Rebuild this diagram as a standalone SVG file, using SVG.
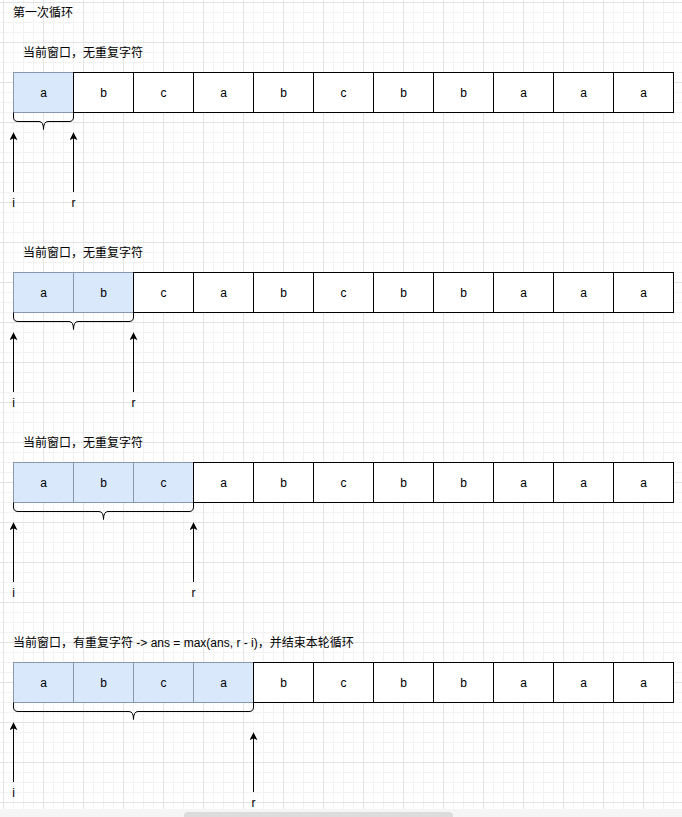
<svg xmlns="http://www.w3.org/2000/svg" width="682" height="817" viewBox="0 0 682 817">
<style>
text{font-family:"Liberation Sans","Noto Sans CJK SC",sans-serif;font-size:12px;fill:#000}
.c{text-anchor:middle;dominant-baseline:central}
.l{dominant-baseline:central}
.cell{fill:#fff;stroke:#000;stroke-width:1}
.hl{fill:#dae8fc;stroke:#8797b0;stroke-width:1}
.br{fill:none;stroke:#000;stroke-width:1}
.ar{stroke:#000;stroke-width:1;fill:none;marker-end:url(#ah)}
</style>
<defs>
<pattern id="minor" patternUnits="userSpaceOnUse" x="3" y="2" width="10" height="10">
<path d="M0.5,0V10M0,0.5H10" stroke="#f2f2f2" stroke-width="1" fill="none"/>
</pattern>
<pattern id="major" patternUnits="userSpaceOnUse" x="3" y="2" width="40" height="40">
<path d="M0.5,0V40M0,0.5H40" stroke="#e3e3e3" stroke-width="1" fill="none"/>
</pattern>
<marker id="ah" viewBox="0 0 10 10" refX="9" refY="5" markerWidth="8" markerHeight="8" markerUnits="userSpaceOnUse" orient="auto">
<path d="M0,0L10,5L0,10L2.5,5Z" fill="#000"/>
</marker>
</defs>
<rect width="682" height="817" fill="#fff"/>
<rect width="682" height="817" fill="url(#minor)"/>
<rect width="682" height="817" fill="url(#major)"/>

<g id="title"><text class="l" x="13" y="13">第一次循环</text></g>

<!-- Row 1 -->
<g id="row1-label"><text class="l" x="23" y="52.5">当前窗口，无重复字符</text></g>
<g id="row1">
<g id="r1c1"><rect class="hl" x="13.5" y="72.5" width="60" height="40"/><text class="c" x="43.5" y="92.5">a</text></g>
<g id="r1c2"><rect class="cell" x="73.5" y="72.5" width="60" height="40"/><text class="c" x="103.5" y="92.5">b</text></g>
<g id="r1c3"><rect class="cell" x="133.5" y="72.5" width="60" height="40"/><text class="c" x="163.5" y="92.5">c</text></g>
<g id="r1c4"><rect class="cell" x="193.5" y="72.5" width="60" height="40"/><text class="c" x="223.5" y="92.5">a</text></g>
<g id="r1c5"><rect class="cell" x="253.5" y="72.5" width="60" height="40"/><text class="c" x="283.5" y="92.5">b</text></g>
<g id="r1c6"><rect class="cell" x="313.5" y="72.5" width="60" height="40"/><text class="c" x="343.5" y="92.5">c</text></g>
<g id="r1c7"><rect class="cell" x="373.5" y="72.5" width="60" height="40"/><text class="c" x="403.5" y="92.5">b</text></g>
<g id="r1c8"><rect class="cell" x="433.5" y="72.5" width="60" height="40"/><text class="c" x="463.5" y="92.5">b</text></g>
<g id="r1c9"><rect class="cell" x="493.5" y="72.5" width="60" height="40"/><text class="c" x="523.5" y="92.5">a</text></g>
<g id="r1c10"><rect class="cell" x="553.5" y="72.5" width="60" height="40"/><text class="c" x="583.5" y="92.5">a</text></g>
<g id="r1c11"><rect class="cell" x="613.5" y="72.5" width="60" height="40"/><text class="c" x="643.5" y="92.5">a</text></g>
</g>
<g id="r1-brace"><path class="br" d="M13.5,112.5V117Q13.5,121.5 18,121.5H39Q43.5,121.5 43.5,129.5Q43.5,121.5 48,121.5H69Q73.5,121.5 73.5,117V112.5"/></g>
<g id="r1-i"><text class="c" x="13.5" y="202.5">i</text></g>
<g id="r1-r"><text class="c" x="73.5" y="202.5">r</text></g>

<!-- Row 2 -->
<g id="row2-label"><text class="l" x="23" y="252.5">当前窗口，无重复字符</text></g>
<g id="row2">
<g id="r2c1"><rect class="hl" x="13.5" y="272.5" width="60" height="40"/><text class="c" x="43.5" y="292.5">a</text></g>
<g id="r2c2"><rect class="hl" x="73.5" y="272.5" width="60" height="40"/><text class="c" x="103.5" y="292.5">b</text></g>
<g id="r2c3"><rect class="cell" x="133.5" y="272.5" width="60" height="40"/><text class="c" x="163.5" y="292.5">c</text></g>
<g id="r2c4"><rect class="cell" x="193.5" y="272.5" width="60" height="40"/><text class="c" x="223.5" y="292.5">a</text></g>
<g id="r2c5"><rect class="cell" x="253.5" y="272.5" width="60" height="40"/><text class="c" x="283.5" y="292.5">b</text></g>
<g id="r2c6"><rect class="cell" x="313.5" y="272.5" width="60" height="40"/><text class="c" x="343.5" y="292.5">c</text></g>
<g id="r2c7"><rect class="cell" x="373.5" y="272.5" width="60" height="40"/><text class="c" x="403.5" y="292.5">b</text></g>
<g id="r2c8"><rect class="cell" x="433.5" y="272.5" width="60" height="40"/><text class="c" x="463.5" y="292.5">b</text></g>
<g id="r2c9"><rect class="cell" x="493.5" y="272.5" width="60" height="40"/><text class="c" x="523.5" y="292.5">a</text></g>
<g id="r2c10"><rect class="cell" x="553.5" y="272.5" width="60" height="40"/><text class="c" x="583.5" y="292.5">a</text></g>
<g id="r2c11"><rect class="cell" x="613.5" y="272.5" width="60" height="40"/><text class="c" x="643.5" y="292.5">a</text></g>
</g>
<g id="r2-brace"><path class="br" d="M13.5,312.5V317Q13.5,321.5 18,321.5H69Q73.5,321.5 73.5,329.5Q73.5,321.5 78,321.5H129Q133.5,321.5 133.5,317V312.5"/></g>
<g id="r2-i"><text class="c" x="13.5" y="402.5">i</text></g>
<g id="r2-r"><text class="c" x="133.5" y="402.5">r</text></g>

<!-- Row 3 -->
<g id="row3-label"><text class="l" x="23" y="442.5">当前窗口，无重复字符</text></g>
<g id="row3">
<g id="r3c1"><rect class="hl" x="13.5" y="462.5" width="60" height="40"/><text class="c" x="43.5" y="482.5">a</text></g>
<g id="r3c2"><rect class="hl" x="73.5" y="462.5" width="60" height="40"/><text class="c" x="103.5" y="482.5">b</text></g>
<g id="r3c3"><rect class="hl" x="133.5" y="462.5" width="60" height="40"/><text class="c" x="163.5" y="482.5">c</text></g>
<g id="r3c4"><rect class="cell" x="193.5" y="462.5" width="60" height="40"/><text class="c" x="223.5" y="482.5">a</text></g>
<g id="r3c5"><rect class="cell" x="253.5" y="462.5" width="60" height="40"/><text class="c" x="283.5" y="482.5">b</text></g>
<g id="r3c6"><rect class="cell" x="313.5" y="462.5" width="60" height="40"/><text class="c" x="343.5" y="482.5">c</text></g>
<g id="r3c7"><rect class="cell" x="373.5" y="462.5" width="60" height="40"/><text class="c" x="403.5" y="482.5">b</text></g>
<g id="r3c8"><rect class="cell" x="433.5" y="462.5" width="60" height="40"/><text class="c" x="463.5" y="482.5">b</text></g>
<g id="r3c9"><rect class="cell" x="493.5" y="462.5" width="60" height="40"/><text class="c" x="523.5" y="482.5">a</text></g>
<g id="r3c10"><rect class="cell" x="553.5" y="462.5" width="60" height="40"/><text class="c" x="583.5" y="482.5">a</text></g>
<g id="r3c11"><rect class="cell" x="613.5" y="462.5" width="60" height="40"/><text class="c" x="643.5" y="482.5">a</text></g>
</g>
<g id="r3-brace"><path class="br" d="M13.5,502.5V507Q13.5,511.5 18,511.5H99Q103.5,511.5 103.5,519.5Q103.5,511.5 108,511.5H189Q193.5,511.5 193.5,507V502.5"/></g>
<g id="r3-i"><text class="c" x="13.5" y="592.5">i</text></g>
<g id="r3-r"><text class="c" x="193.5" y="592.5">r</text></g>

<!-- Row 4 -->
<g id="row4-label"><text class="l" x="13" y="642.5">当前窗口，有重复字符 -&gt; ans = max(ans, r - i)，并结束本轮循环</text></g>
<g id="row4">
<g id="r4c1"><rect class="hl" x="13.5" y="662.5" width="60" height="40"/><text class="c" x="43.5" y="682.5">a</text></g>
<g id="r4c2"><rect class="hl" x="73.5" y="662.5" width="60" height="40"/><text class="c" x="103.5" y="682.5">b</text></g>
<g id="r4c3"><rect class="hl" x="133.5" y="662.5" width="60" height="40"/><text class="c" x="163.5" y="682.5">c</text></g>
<g id="r4c4"><rect class="hl" x="193.5" y="662.5" width="60" height="40"/><text class="c" x="223.5" y="682.5">a</text></g>
<g id="r4c5"><rect class="cell" x="253.5" y="662.5" width="60" height="40"/><text class="c" x="283.5" y="682.5">b</text></g>
<g id="r4c6"><rect class="cell" x="313.5" y="662.5" width="60" height="40"/><text class="c" x="343.5" y="682.5">c</text></g>
<g id="r4c7"><rect class="cell" x="373.5" y="662.5" width="60" height="40"/><text class="c" x="403.5" y="682.5">b</text></g>
<g id="r4c8"><rect class="cell" x="433.5" y="662.5" width="60" height="40"/><text class="c" x="463.5" y="682.5">b</text></g>
<g id="r4c9"><rect class="cell" x="493.5" y="662.5" width="60" height="40"/><text class="c" x="523.5" y="682.5">a</text></g>
<g id="r4c10"><rect class="cell" x="553.5" y="662.5" width="60" height="40"/><text class="c" x="583.5" y="682.5">a</text></g>
<g id="r4c11"><rect class="cell" x="613.5" y="662.5" width="60" height="40"/><text class="c" x="643.5" y="682.5">a</text></g>
</g>
<g id="r4-brace"><path class="br" d="M13.5,702.5V707Q13.5,711.5 18,711.5H129Q133.5,711.5 133.5,719.5Q133.5,711.5 138,711.5H249Q253.5,711.5 253.5,707V702.5"/></g>
<g id="r4-i"><text class="c" x="13.5" y="792.5">i</text></g>
<g id="r4-r"><text class="c" x="253.5" y="802.5">r</text></g>

<g id="connectors">
<line class="ar" x1="13.5" y1="192" x2="13.5" y2="133"/>
<line class="ar" x1="73.5" y1="192" x2="73.5" y2="133"/>
<line class="ar" x1="13.5" y1="392" x2="13.5" y2="333"/>
<line class="ar" x1="133.5" y1="392" x2="133.5" y2="333"/>
<line class="ar" x1="13.5" y1="582" x2="13.5" y2="523"/>
<line class="ar" x1="193.5" y1="582" x2="193.5" y2="523"/>
<line class="ar" x1="13.5" y1="782" x2="13.5" y2="723"/>
<line class="ar" x1="253.5" y1="792" x2="253.5" y2="733"/>
</g>

<rect x="0" y="809" width="682" height="8" fill="#f5f5f5"/>
<rect x="184" y="812" width="269" height="8" rx="4" fill="#dcdcdc"/>
</svg>
